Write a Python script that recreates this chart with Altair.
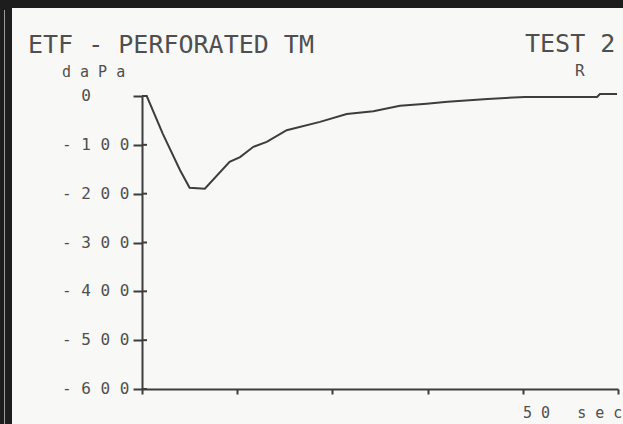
import altair as alt
import pandas as pd

# ---- data ----
time_s = [0, 0.5, 2.2, 4.0, 5.0, 6.6, 9.2, 10.3, 11.7, 13.1, 15.2, 18.7, 21.5, 24.3,
          27.1, 29.9, 32.1, 36.3, 40.2, 47.8, 48.1, 49.9]
pressure = [0, 0, -78, -152, -188, -190, -135, -125, -104, -94, -70, -53, -37, -31,
            -20, -16, -12, -6, -2, -2, 4, 4]

y_ticks = [0, -100, -200, -300, -400, -500, -600]
y_tick_labels = ["0", "-100", "-200", "-300", "-400", "-500", "-600"]
x_ticks = [0, 10, 20, 30, 40, 50]

title_left = "ETF - PERFORATED TM"
title_right = "TEST 2"
ear_label = "R"
y_unit = "daPa"
x_unit = "50 sec"

INK = "#3d3d3d"
TXT = "#4f4f4f"
PAPER = "#f8f8f6"
FONT = "DejaVu Sans Mono"
NB = "\u00a0"
ZW = "\u200b"


def spaced(s, gap=1):
    return NB.join(NB * gap if ch == " " else ch for ch in s)


def label_text(s):
    # the plotter prints "0" in the second character cell
    return ZW + NB * 2 + s if s == "0" else spaced(s)


curve = pd.DataFrame({"t": time_s, "p": pressure})
ticks_df = pd.DataFrame({"t": [0] * len(y_ticks), "p": y_ticks,
                         "lab": [label_text(s) for s in y_tick_labels]})

xscale = alt.Scale(domain=[0, 50], nice=False, zero=False)
yscale = alt.Scale(domain=[-600, 0], nice=False, zero=False)

xaxis = alt.Axis(values=x_ticks, labels=False, title=None, grid=False, tickSize=5,
                 tickWidth=2, tickColor=INK, domainColor=INK, domainWidth=2)
yaxis = alt.Axis(values=y_ticks, labels=False, title=None, grid=False, tickSize=9,
                 tickWidth=2, tickColor=INK, domainColor=INK, domainWidth=2)

line = alt.Chart(curve).mark_line(color=INK, strokeWidth=2).encode(
    x=alt.X("t:Q", scale=xscale, axis=xaxis),
    y=alt.Y("p:Q", scale=yscale, axis=yaxis),
)

inner_ticks = alt.Chart(ticks_df).mark_rule(color=INK, strokeWidth=2).encode(
    y=alt.Y("p:Q", scale=yscale, axis=yaxis),
    x=alt.value(0),
    x2=alt.value(5),
)

tick_labels = alt.Chart(ticks_df).mark_text(
    align="left", baseline="middle", font=FONT, fontSize=16, color=TXT
).encode(
    y=alt.Y("p:Q", scale=yscale, axis=yaxis),
    x=alt.value(-80),
    text="lab:N",
)


def label(txt, x, y, size):
    return alt.Chart(pd.DataFrame({"s": [txt]})).mark_text(
        align="left", baseline="alphabetic", font=FONT, fontSize=size, color=TXT
    ).encode(x=alt.value(x), y=alt.value(y), text="s:N")


t1 = label(title_left, -114, -43, 25)
t2 = label(title_right, 383, -44, 25)
t3 = label(ear_label, 433, -20, 16)
t4 = label(spaced(y_unit), -80, -19, 15)
t5 = label(spaced(x_unit), 381, 322, 15)

one = pd.DataFrame({"a": [0]})
band_left = alt.Chart(one).mark_rect(color="#1d1d1d").encode(
    x=alt.value(-142), x2=alt.value(-130), y=alt.value(-96), y2=alt.value(328))
band_top = alt.Chart(one).mark_rect(color="#1d1d1d").encode(
    x=alt.value(-142), x2=alt.value(481), y=alt.value(-96), y2=alt.value(-88))
edge = alt.Chart(one).mark_rule(color="#9a9a9a", strokeWidth=1).encode(
    x=alt.value(-137.5), y=alt.value(-86), y2=alt.value(328))

chart = alt.layer(
    line, inner_ticks, tick_labels, t1, t2, t3, t4, t5, band_left, band_top, edge
).properties(
    width=476, height=293,
    autosize=alt.AutoSizeParams(type="none"),
    padding={"left": 142, "top": 96, "right": 5, "bottom": 35},
    background=PAPER,
).configure_view(stroke=None)

chart.save("out.html", embed_options={"renderer": "svg", "actions": False})
